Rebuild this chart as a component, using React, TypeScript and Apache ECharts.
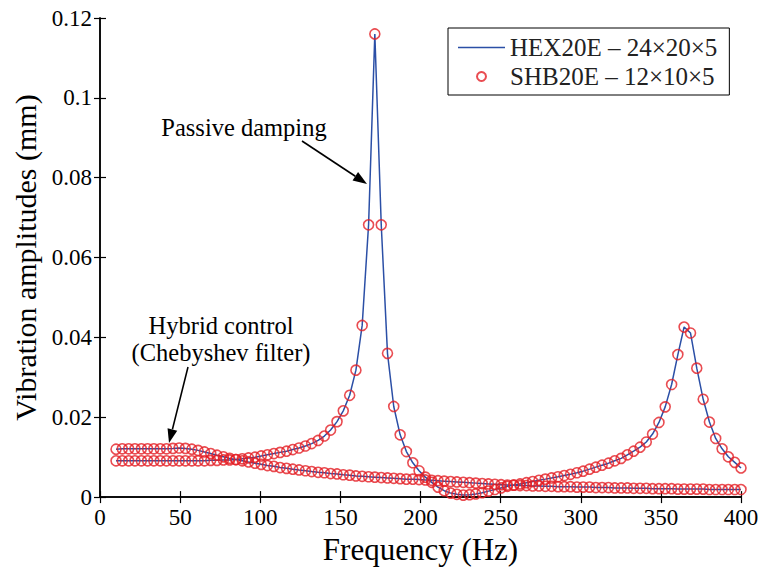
import React, { useEffect, useRef } from "react";
import * as echarts from "echarts";

const frequencies = [
  10.0, 13.9, 17.9, 21.8, 25.8, 29.7, 33.6, 37.6, 41.5, 45.5,
  49.4, 53.3, 57.3, 61.2, 65.2, 69.1, 73.0, 77.0, 80.9, 84.8,
  88.8, 92.7, 96.7, 100.6, 104.5, 108.5, 112.4, 116.4, 120.3, 124.2,
  128.2, 132.1, 136.1, 140.0, 143.9, 147.9, 151.8, 155.8, 159.7, 163.6,
  167.6, 171.5, 175.5, 179.4, 183.3, 187.3, 191.2, 195.2, 199.1, 203.0,
  207.0, 210.9, 214.8, 218.8, 222.7, 226.7, 230.6, 234.5, 238.5, 242.4,
  246.4, 250.3, 254.2, 258.2, 262.1, 266.1, 270.0, 273.9, 277.9, 281.8,
  285.8, 289.7, 293.6, 297.6, 301.5, 305.5, 309.4, 313.3, 317.3, 321.2,
  325.2, 329.1, 333.0, 337.0, 340.9, 344.8, 348.8, 352.7, 356.7, 360.6,
  364.5, 368.5, 372.4, 376.4, 380.3, 384.2, 388.2, 392.1, 396.1, 400.0,
];

const passiveDamping = [
  0.0091, 0.0091, 0.0091, 0.0091, 0.0091, 0.0091, 0.0091, 0.0091, 0.0091, 0.0091,
  0.0091, 0.0091, 0.0091, 0.0091, 0.0091, 0.0092, 0.0092, 0.0093, 0.0093, 0.0094,
  0.0096, 0.0098, 0.0100, 0.0103, 0.0106, 0.0109, 0.0112, 0.0115, 0.0119, 0.0123,
  0.0128, 0.0134, 0.0142, 0.0153, 0.0168, 0.0189, 0.0216, 0.0255, 0.0318, 0.0430,
  0.0682, 0.1160, 0.0682, 0.0360, 0.0227, 0.0156, 0.0114, 0.0086, 0.0066, 0.0050,
  0.0037, 0.0025, 0.0016, 0.0010, 0.0007, 0.0005, 0.0006, 0.0008, 0.0011, 0.0015,
  0.0019, 0.0023, 0.0027, 0.0030, 0.0033, 0.0036, 0.0039, 0.0042, 0.0045, 0.0048,
  0.0051, 0.0054, 0.0057, 0.0061, 0.0065, 0.0070, 0.0075, 0.0080, 0.0085, 0.0091,
  0.0097, 0.0106, 0.0115, 0.0125, 0.0138, 0.0158, 0.0187, 0.0226, 0.0282, 0.0357,
  0.0426, 0.0411, 0.0323, 0.0245, 0.0188, 0.0147, 0.0121, 0.0101, 0.0087, 0.0073,
];

const hybridControl = [
  0.0120, 0.0121, 0.0121, 0.0121, 0.0121, 0.0121, 0.0121, 0.0121, 0.0121, 0.0122,
  0.0123, 0.0122, 0.0120, 0.0117, 0.0113, 0.0109, 0.0105, 0.0101, 0.0097, 0.0094,
  0.0091, 0.0088, 0.0085, 0.0082, 0.0079, 0.0077, 0.0074, 0.0072, 0.0070, 0.0068,
  0.0066, 0.0064, 0.0062, 0.0061, 0.0059, 0.0058, 0.0056, 0.0055, 0.0053, 0.0052,
  0.0051, 0.0050, 0.0049, 0.0048, 0.0047, 0.0046, 0.0045, 0.0045, 0.0044, 0.0043,
  0.0042, 0.0041, 0.0040, 0.0039, 0.0038, 0.0037, 0.0036, 0.0035, 0.0034, 0.0033,
  0.0032, 0.0031, 0.0030, 0.0030, 0.0029, 0.0029, 0.0028, 0.0028, 0.0027, 0.0027,
  0.0026, 0.0026, 0.0026, 0.0025, 0.0025, 0.0025, 0.0024, 0.0024, 0.0024, 0.0023,
  0.0023, 0.0023, 0.0022, 0.0022, 0.0022, 0.0021, 0.0021, 0.0021, 0.0021, 0.0020,
  0.0020, 0.0020, 0.0020, 0.0020, 0.0019, 0.0019, 0.0019, 0.0019, 0.0019, 0.0019,
];

const lineName = "HEX20E \u2013 24\u00d720\u00d75";
const circleName = "SHB20E \u2013 12\u00d710\u00d75";
const xTitle = "Frequency (Hz)";
const yTitle = "Vibration amplitudes (mm)";

const FONT = "'Liberation Serif', 'Times New Roman', serif";
const BLUE = "#2b4fa6";
const RED = "#e41f26";

function arrow(x1: number, y1: number, x2: number, y2: number) {
  const dx = x2 - x1;
  const dy = y2 - y1;
  const len = Math.sqrt(dx * dx + dy * dy);
  const ux = dx / len;
  const uy = dy / len;
  const hl = 14;
  const hw = 5;
  const bx = x2 - ux * hl;
  const by = y2 - uy * hl;
  return [
    {
      type: "line",
      shape: { x1, y1, x2: bx, y2: by },
      style: { stroke: "#000", lineWidth: 1.6 },
    },
    {
      type: "polygon",
      shape: {
        points: [
          [x2, y2],
          [bx - uy * hw, by + ux * hw],
          [bx + uy * hw, by - ux * hw],
        ],
      },
      style: { fill: "#000" },
    },
  ];
}

export default function App() {
  const ref = useRef<HTMLDivElement>(null);
  useEffect(() => {
    if (!ref.current) return;
    const chart = echarts.init(ref.current, undefined, { renderer: "svg" });
    const pair = (vals: number[]) => frequencies.map((f, i) => [f, vals[i]]);
    const axisLine = { show: true, lineStyle: { color: "#000", width: 1.5 } };
    const tick = { show: true, inside: true, length: 6, lineStyle: { color: "#000", width: 1.2 } };
    const labelStyle = { color: "#000", fontFamily: FONT, fontSize: 23 };
    const fmtY = (v: number) => String(+v.toFixed(2));
    const circleStyle = { color: "rgba(0,0,0,0)", borderColor: RED, borderWidth: 1.6 };
    chart.setOption({
      animation: false,
      backgroundColor: "#fff",
      grid: { left: 100, right: 22, top: 18, bottom: 72, containLabel: false },
      legend: {
        orient: "vertical",
        left: 448,
        top: 28,
        padding: [7, 12, 6, 10],
        itemGap: 4,
        itemWidth: 47,
        itemHeight: 9,
        backgroundColor: "#fff",
        borderColor: "#000",
        borderWidth: 1,
        textStyle: { color: "#222", fontFamily: FONT, fontSize: 25, lineHeight: 24 },
        data: [
          { name: lineName, icon: "path://M0,0H47V1.5H0Z" },
          { name: circleName },
        ],
      },
      xAxis: [
        {
          type: "value",
          min: 0,
          max: 400,
          interval: 50,
          position: "bottom",
          name: xTitle,
          nameLocation: "middle",
          nameGap: 36,
          nameTextStyle: { color: "#000", fontFamily: FONT, fontSize: 31 },
          axisLine,
          axisTick: tick,
          axisLabel: { ...labelStyle, margin: 9 },
          splitLine: { show: false },
        },
        {
          type: "value",
          min: 0,
          max: 400,
          interval: 50,
          position: "top",
          axisLine,
          axisTick: tick,
          axisLabel: { show: false },
          splitLine: { show: false },
        },
      ],
      yAxis: [
        {
          type: "value",
          min: 0,
          max: 0.12,
          interval: 0.02,
          position: "left",
          name: yTitle,
          nameLocation: "middle",
          nameGap: 58,
          nameTextStyle: { color: "#000", fontFamily: FONT, fontSize: 30 },
          axisLine,
          axisTick: tick,
          axisLabel: { ...labelStyle, margin: 8, formatter: fmtY },
          splitLine: { show: false },
        },
        {
          type: "value",
          min: 0,
          max: 0.12,
          interval: 0.02,
          position: "right",
          axisLine,
          axisTick: tick,
          axisLabel: { show: false },
          splitLine: { show: false },
        },
      ],
      series: [
        {
          name: lineName,
          type: "line",
          data: pair(passiveDamping),
          symbol: "none",
          lineStyle: { color: BLUE, width: 1.5 },
          itemStyle: { color: BLUE },
          z: 2,
        },
        {
          name: lineName,
          type: "line",
          data: pair(hybridControl),
          symbol: "none",
          lineStyle: { color: BLUE, width: 1.5 },
          itemStyle: { color: BLUE },
          z: 2,
        },
        {
          name: circleName,
          type: "scatter",
          data: pair(passiveDamping),
          symbol: "circle",
          symbolSize: 10,
          itemStyle: circleStyle,
          z: 3,
        },
        {
          name: circleName,
          type: "scatter",
          data: pair(hybridControl),
          symbol: "circle",
          symbolSize: 10,
          itemStyle: circleStyle,
          z: 3,
        },
      ],
      graphic: [
        {
          type: "text",
          x: 244,
          y: 127,
          style: {
            text: "Passive damping",
            font: `24.5px ${FONT}`,
            fill: "#000",
            align: "center",
            verticalAlign: "middle",
          },
        },
        {
          type: "text",
          x: 221,
          y: 325,
          style: {
            text: "Hybrid control",
            font: `24.5px ${FONT}`,
            fill: "#000",
            align: "center",
            verticalAlign: "middle",
          },
        },
        {
          type: "text",
          x: 221,
          y: 352,
          style: {
            text: "(Chebyshev filter)",
            font: `24.5px ${FONT}`,
            fill: "#000",
            align: "center",
            verticalAlign: "middle",
          },
        },
        ...arrow(302, 141, 367, 184),
        ...arrow(188, 367, 169, 443),
      ],
    });
    return () => chart.dispose();
  }, []);
  return (
    <div
      ref={ref}
      style={{ position: "fixed", left: 0, top: 0, width: 763, height: 570, background: "#fff" }}
    />
  );
}
